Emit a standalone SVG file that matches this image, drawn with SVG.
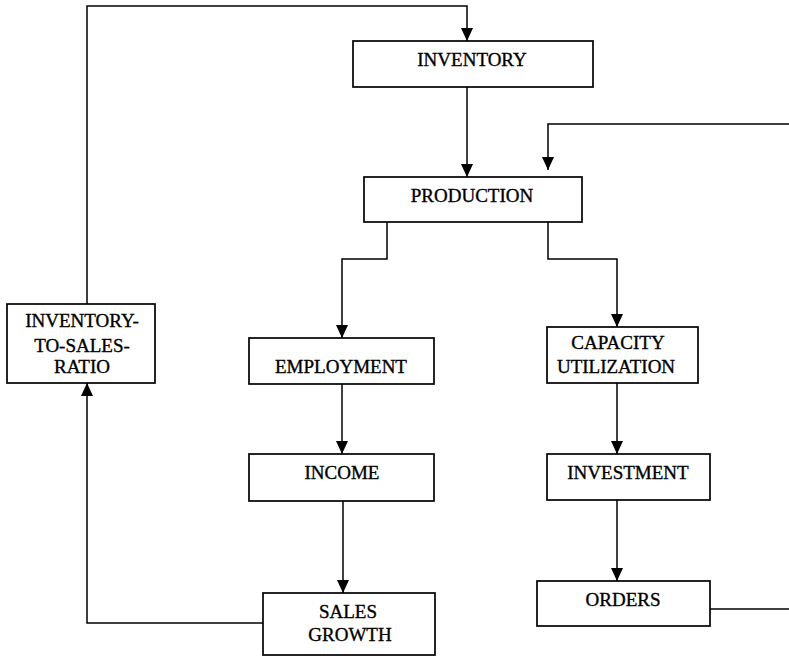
<svg xmlns="http://www.w3.org/2000/svg" width="789" height="656" viewBox="0 0 789 656">
  <style>
    .box { fill: #fff; stroke: #000; stroke-width: 1.7; }
    .lbl { font-family: "Liberation Serif", "Times New Roman", serif; font-size: 19px; fill: #000; stroke: #000; stroke-width: 0.35; text-anchor: middle; }
    .wire { fill: none; stroke: #000; stroke-width: 1.5; }
  </style>
  <defs>
    <marker id="arrow" viewBox="0 0 13 12" refX="13" refY="6" markerWidth="13" markerHeight="12" markerUnits="userSpaceOnUse" orient="auto">
      <path d="M0,0 L13,6 L0,12 Z" fill="#000"/>
    </marker>
  </defs>
  <rect width="789" height="656" fill="#fff"/>

  <g id="connectors">
    <!-- ratio feedback to inventory -->
    <path class="wire" d="M87,304 V6 H467 V41" marker-end="url(#arrow)"/>
    <!-- inventory to production -->
    <path class="wire" d="M467,87 V177" marker-end="url(#arrow)"/>
    <!-- orders feedback to production -->
    <path class="wire" d="M789,124 H548 V170" marker-end="url(#arrow)"/>
    <!-- production branches -->
    <path class="wire" d="M387,222 V259 H342 V338" marker-end="url(#arrow)"/>
    <path class="wire" d="M548,222 V259 H617 V327" marker-end="url(#arrow)"/>
    <!-- left chain -->
    <path class="wire" d="M342,384 V454" marker-end="url(#arrow)"/>
    <path class="wire" d="M343,501 V593" marker-end="url(#arrow)"/>
    <!-- right chain -->
    <path class="wire" d="M617,383 V454" marker-end="url(#arrow)"/>
    <path class="wire" d="M617,500 V581" marker-end="url(#arrow)"/>
    <!-- sales growth to ratio -->
    <path class="wire" d="M263,623 H87 V383" marker-end="url(#arrow)"/>
    <!-- orders out to the right edge -->
    <path class="wire" d="M710,609 H789"/>
  </g>

  <g id="inventory">
    <rect class="box" x="353" y="41" width="240" height="46"/>
    <text class="lbl" x="472" y="66">INVENTORY</text>
  </g>
  <g id="production">
    <rect class="box" x="364" y="177" width="218" height="45"/>
    <text class="lbl" x="472" y="202">PRODUCTION</text>
  </g>
  <g id="inventory-to-sales-ratio">
    <rect class="box" x="7" y="304" width="148" height="79"/>
    <text class="lbl" x="82" y="327">INVENTORY-</text>
    <text class="lbl" x="82" y="352">TO-SALES-</text>
    <text class="lbl" x="82" y="373">RATIO</text>
  </g>
  <g id="employment">
    <rect class="box" x="249" y="338" width="185" height="46"/>
    <text class="lbl" x="341" y="373">EMPLOYMENT</text>
  </g>
  <g id="capacity-utilization">
    <rect class="box" x="547" y="327" width="151" height="56"/>
    <text class="lbl" x="618" y="349">CAPACITY</text>
    <text class="lbl" x="616" y="373">UTILIZATION</text>
  </g>
  <g id="income">
    <rect class="box" x="249" y="454" width="185" height="47"/>
    <text class="lbl" x="342" y="479">INCOME</text>
  </g>
  <g id="investment">
    <rect class="box" x="547" y="454" width="163" height="46"/>
    <text class="lbl" x="628" y="479">INVESTMENT</text>
  </g>
  <g id="sales-growth">
    <rect class="box" x="263" y="593" width="172" height="62"/>
    <text class="lbl" x="348" y="618">SALES</text>
    <text class="lbl" x="350" y="641">GROWTH</text>
  </g>
  <g id="orders">
    <rect class="box" x="537" y="581" width="173" height="45"/>
    <text class="lbl" x="623" y="606">ORDERS</text>
  </g>
</svg>
